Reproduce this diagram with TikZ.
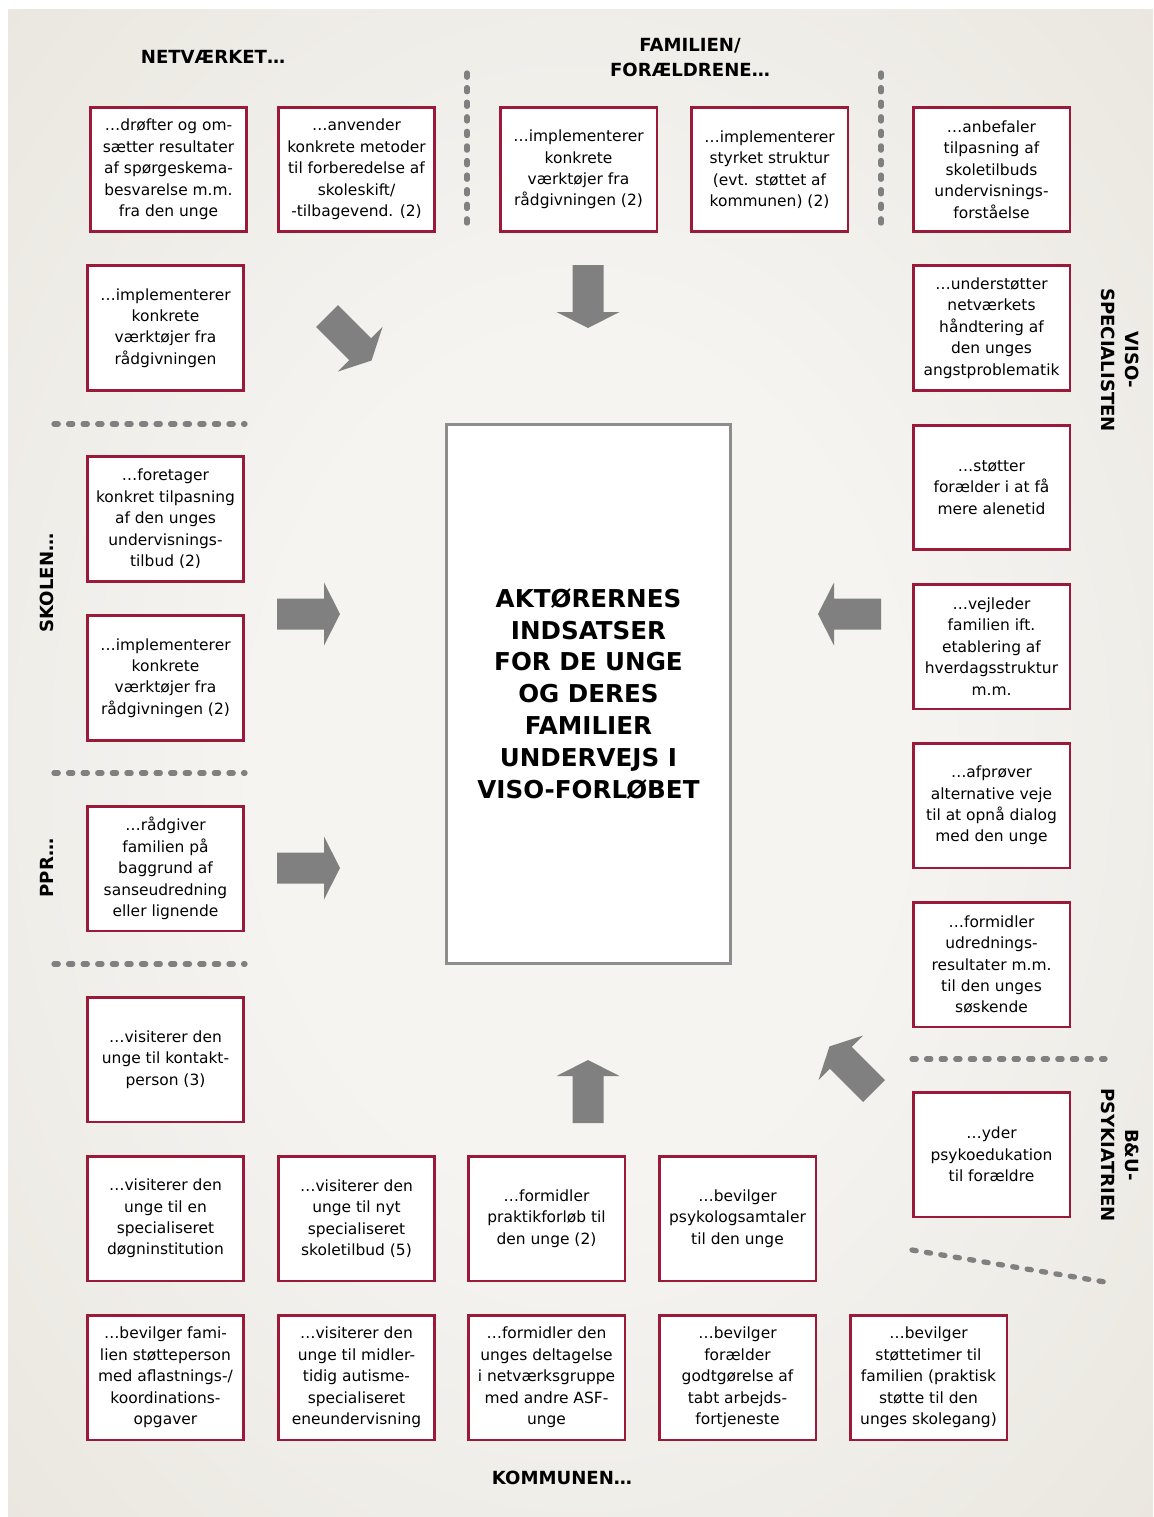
\documentclass[tikz,border=0pt]{standalone}
\usepackage{fontspec}
\setmainfont{DejaVu Sans}
\usepackage{xcolor}
\definecolor{ramme}{HTML}{9B1A3A}
\definecolor{pilgraa}{HTML}{808080}
\definecolor{midtlys}{HTML}{F5F4F1}
\definecolor{mellembeige}{HTML}{E6E2D9}
\definecolor{kantbeige}{HTML}{DFDBCF}
\newcommand{\boksfont}{\fontsize{8.8pt}{12.2pt}\selectfont}
\newcommand{\overfont}{\fontsize{10.3pt}{14pt}\selectfont\bfseries}
\newcommand{\midtfont}{\fontsize{14pt}{18.2pt}\selectfont\bfseries}
\pgfdeclareradialshading{baggrund}{\pgfpoint{0bp}{0bp}}{color(0bp)=(midtlys); color(14bp)=(midtlys); color(44bp)=(mellembeige); color(72bp)=(kantbeige)}

\tikzset{
  aktoer/.style={draw=ramme, line width=1.7pt, fill=white, minimum width=3.14cm,
    minimum height=2.5cm, inner sep=0pt, align=center, font=\boksfont},
  overskrift/.style={align=center, font=\overfont},
  skillelinje/.style={draw=pilgraa, line width=3pt, line cap=round, dash pattern=on 2.4pt off 5.9pt},
  pil/.style={fill=pilgraa}
}

\begin{document}
\begin{tikzpicture}[x=0.02cm, y=-0.02cm]
	\useasboundingbox (0,0) rectangle (1153,1517);
	\fill[white] (0,0) rectangle (1153,1517);
	\shade[shading=baggrund] (8,10) rectangle (1153,1517);

	% overskrifter
	\node[overskrift] (netvaerk) at (213,57) {NETVÆRKET…};
	\node[overskrift] (familie) at (690,57.5) {FAMILIEN/\\FORÆLDRENE…};
	\node[overskrift] (kommune) at (562,1478) {KOMMUNEN…};
	\node[overskrift, rotate=90] (skole) at (47,583) {SKOLEN…};
	\node[overskrift, rotate=90] (ppr) at (47,868) {PPR…};
	\node[overskrift, rotate=-90] (viso) at (1120,360) {VISO-\\SPECIALISTEN};
	\node[overskrift, rotate=-90] (bu) at (1120,1155) {B\&U-\\PSYKIATRIEN};

	% skillelinjer
	\draw[skillelinje] (467,73) -- (467,225);
	\draw[skillelinje] (881,73) -- (881,225);
	\foreach \y in {424, 773, 964}{
		\draw[skillelinje] (54,\y) -- (245,\y);
	}
	\draw[skillelinje] (912,1059) -- (1105,1059);
	\draw[skillelinje] (912,1250) -- (1105,1282);

	% midten
	\node[draw=pilgraa!90, line width=1.4pt, fill=white, minimum width=5.68cm, minimum height=10.78cm,
		align=center, font=\midtfont] (indsats) at (588.5,694)
		{AKTØRERNES\\INDSATSER\\FOR DE UNGE\\OG DERES\\FAMILIER\\UNDERVEJS I\\VISO-FORLØBET};

	% netvaerket og familien
	\node[aktoer] (net1) at (168.5,169.5) {…drøfter og om-\\sætter resultater\\af spørgeskema-\\besvarelse m.m.\\fra den unge};
	\node[aktoer] (net2) at (356.5,169.5) {…anvender\\konkrete metoder\\til forberedelse af\\skoleskift/\\-tilbagevend. (2)};
	\node[aktoer] (fam1) at (578.5,169.5) {…implementerer\\konkrete\\værktøjer fra\\rådgivningen (2)};
	\node[aktoer] (fam2) at (769.5,169.5) {…implementerer\\styrket struktur\\(evt. støttet af\\kommunen) (2)};
	\node[aktoer] (net3) at (165.5,328) {…implementerer\\konkrete\\værktøjer fra\\rådgivningen};

	% skolen og ppr
	\node[aktoer] (skole1) at (165.5,519) {…foretager\\konkret tilpasning\\af den unges\\undervisnings-\\tilbud (2)};
	\node[aktoer] (skole2) at (165.5,678) {…implementerer\\konkrete\\værktøjer fra\\rådgivningen (2)};
	\node[aktoer] (ppr1) at (165.5,868.5) {…rådgiver\\familien på\\baggrund af\\sanseudredning\\eller lignende};

	% viso-specialisten
	\node[aktoer] (viso1) at (991.5,169.5) {…anbefaler\\tilpasning af\\skoletilbuds\\undervisnings-\\forståelse};
	\node[aktoer] (viso2) at (991.5,328) {…understøtter\\netværkets\\håndtering af\\den unges\\angstproblematik};
	\node[aktoer] (viso3) at (991.5,487.5) {…støtter\\forælder i at få\\mere alenetid};
	\node[aktoer] (viso4) at (991.5,646.5) {…vejleder\\familien ift.\\etablering af\\hverdagsstruktur\\m.m.};
	\node[aktoer] (viso5) at (991.5,805.5) {…afprøver\\alternative veje\\til at opnå dialog\\med den unge};
	\node[aktoer] (viso6) at (991.5,964.5) {…formidler\\udrednings-\\resultater m.m.\\til den unges\\søskende};
	\node[aktoer] (bu1) at (991.5,1154.5) {…yder\\psykoedukation\\til forældre};

	% kommunen
	\node[aktoer] (kom1) at (165.5,1059.5) {…visiterer den\\unge til kontakt-\\person (3)};
	\node[aktoer] (kom2) at (165.5,1218.5) {…visiterer den\\unge til en\\specialiseret\\døgninstitution};
	\node[aktoer] (kom3) at (356.5,1218.5) {…visiterer den\\unge til nyt\\specialiseret\\skoletilbud (5)};
	\node[aktoer] (kom4) at (546.5,1218.5) {…formidler\\praktikforløb til\\den unge (2)};
	\node[aktoer] (kom5) at (737.5,1218.5) {…bevilger\\psykologsamtaler\\til den unge};
	\node[aktoer] (kom6) at (165.5,1377.5) {…bevilger fami-\\lien støtteperson\\med aflastnings-/\\koordinations-\\opgaver};
	\node[aktoer] (kom7) at (356.5,1377.5) {…visiterer den\\unge til midler-\\tidig autisme-\\specialiseret\\eneundervisning};
	\node[aktoer] (kom8) at (546.5,1377.5) {…formidler den\\unges deltagelse\\i netværksgruppe\\med andre ASF-\\unge};
	\node[aktoer] (kom9) at (737.5,1377.5) {…bevilger\\forælder\\godtgørelse af\\tabt arbejds-\\fortjeneste};
	\node[aktoer] (kom10) at (928.5,1377.5) {…bevilger\\støttetimer til\\familien (praktisk\\støtte til den\\unges skolegang)};

	% pile ind mod midten
	\foreach \x/\y/\a in {588/265/-90, 588/1123/90, 277/614/0, 277/868/0, 881/614/180, 327/316/-45, 874/1091/135}{
		\fill[pil, shift={(\x,\y)}, rotate=\a] (0,-15.5) -- (47,-15.5) -- (47,-31.5) -- (63,0)
			-- (47,31.5) -- (47,15.5) -- (0,15.5) -- cycle;
	}
\end{tikzpicture}
\end{document}
